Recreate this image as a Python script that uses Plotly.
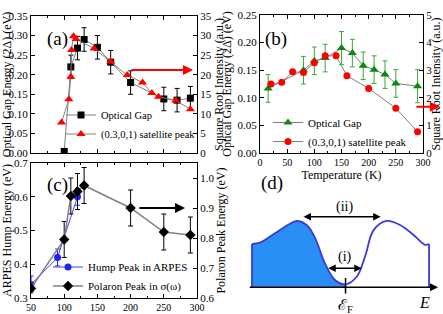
import plotly.graph_objects as go

# ---------------- data ----------------
# panel (a)
a_gap_T = [100, 110, 120, 130, 150, 170, 200, 250, 270, 290]
a_gap = [0.004, 0.22, 0.268, 0.29, 0.27, 0.232, 0.18, 0.138, 0.135, 0.14]
a_gap_err = [0, 0.03, 0.03, 0.03, 0.03, 0.03, 0.03, 0.03, 0.03, 0.03]
a_sat_T = [96, 107, 110, 111, 114, 118, 145, 170, 195, 218, 232, 242, 268, 290]
a_sat = [7.8, 13.7, 19.5, 26.3, 29.8, 29.1, 26.7, 23.4, 19.9, 18.0, 15.3, 14.4, 13.4, 11.2]

# panel (b)
b_gap_T = [15, 80, 100, 120, 150, 170, 190, 210, 230, 250, 290]
b_gap = [0.117, 0.150, 0.167, 0.172, 0.190, 0.181, 0.158, 0.151, 0.142, 0.126, 0.121]
b_gap_err = [0.025, 0.025, 0.025, 0.025, 0.03, 0.025, 0.025, 0.025, 0.025, 0.025, 0.03]
b_sat_T = [20, 40, 60, 80, 100, 120, 140, 160, 200, 250, 290]
b_sat = [2.5, 2.56, 2.94, 2.92, 3.27, 3.52, 3.52, 2.8, 2.34, 1.62, 0.77]

# panel (c)
c_hump_T = [50, 90, 120]
c_hump = [0.34, 0.42, 0.60]
c_hump_err = [0.025, 0.025, 0.025]
c_pol_T = [50, 100, 110, 120, 130, 200, 250, 290]
c_pol = [0.632, 0.795, 0.94, 0.955, 0.975, 0.90, 0.82, 0.81]
c_pol_err = [0.01, 0.06, 0.06, 0.06, 0.06, 0.06, 0.06, 0.06]

# panel (d) schematic density of states (arbitrary units)
d_E = [0.0, 0.43, 1.24, 1.95, 2.4, 2.94, 3.39, 3.92, 4.46, 5.03,
       5.63, 6.08, 6.54, 7.24, 7.96, 8.67, 9.3, 9.52]
d_dos = [0.56, 0.577, 0.70, 0.81, 0.858, 0.806, 0.64, 0.31, 0.094, 0.039,
         0.137, 0.40, 0.74, 0.858, 0.806, 0.68, 0.55, 0.56]
d_EF = 5.03

FONT = "Times New Roman, Liberation Serif, DejaVu Serif, serif"
W, H = 443, 314


def px(x):
    return x / W


def py(y):
    return 1 - y / H


fig = go.Figure()

GRAY = "#808080"

# ---- (a)
fig.add_trace(go.Scatter(x=a_gap_T, y=a_gap, mode="lines+markers", name="Optical Gap",
                         line=dict(color=GRAY, width=1),
                         marker=dict(symbol="square", size=7, color="black"),
                         error_y=dict(type="data", array=a_gap_err, color="black", thickness=1, width=2.5),
                         xaxis="x", yaxis="y", legend="legend"))
fig.add_trace(go.Scatter(x=a_sat_T, y=a_sat, mode="lines+markers", name="(0.3,0,1) satellite peak",
                         line=dict(color=GRAY, width=1),
                         marker=dict(symbol="triangle-up", size=8, color="red"),
                         xaxis="x", yaxis="y2", legend="legend"))

# ---- (b)
GREEN = "#0a8a0a"
fig.add_trace(go.Scatter(x=b_gap_T, y=b_gap, mode="lines+markers", name="Optical Gap",
                         line=dict(color=GRAY, width=1),
                         marker=dict(symbol="triangle-up", size=8, color=GREEN),
                         error_y=dict(type="data", array=b_gap_err, color="#3aa83a", thickness=1, width=2.5),
                         xaxis="x2", yaxis="y3", legend="legend2"))
fig.add_trace(go.Scatter(x=b_sat_T, y=b_sat, mode="lines+markers", name="(0.3,0,1) satellite peak",
                         line=dict(color=GRAY, width=1),
                         marker=dict(symbol="circle", size=7, color="red"),
                         xaxis="x2", yaxis="y4", legend="legend2"))

# ---- (c)
BLUE = "#1f1fff"
fig.add_trace(go.Scatter(x=c_hump_T, y=c_hump, mode="lines+markers", name="Hump Peak in ARPES",
                         line=dict(color="#4040ff", width=1),
                         marker=dict(symbol="circle", size=7, color=BLUE),
                         error_y=dict(type="data", array=c_hump_err, color=BLUE, thickness=1, width=2.5),
                         xaxis="x3", yaxis="y5", legend="legend3"))
fig.add_trace(go.Scatter(x=c_pol_T, y=c_pol, mode="lines+markers", name="Polaron Peak in σ(ω)",
                         line=dict(color=GRAY, width=1.5),
                         marker=dict(symbol="diamond", size=8, color="black"),
                         error_y=dict(type="data", array=c_pol_err, color="black", thickness=1, width=2.5),
                         xaxis="x3", yaxis="y6", legend="legend3"))

# ---- (d)
DLINE = "#3c3cd2"
k = d_E.index(d_EF) + 1
fig.add_trace(go.Scatter(x=d_E[:k], y=d_dos[:k],
                         mode="lines", line=dict(width=0, shape="spline", color="#2a8ff5"),
                         fill="tozeroy", fillcolor="#2a8ff5", showlegend=False,
                         xaxis="x4", yaxis="y7"))
fig.add_trace(go.Scatter(x=d_E, y=d_dos, mode="lines",
                         line=dict(color=DLINE, width=1.8, shape="spline", smoothing=1),
                         showlegend=False, xaxis="x4", yaxis="y7"))
fig.add_trace(go.Scatter(x=[d_E[0], d_E[0]], y=[0, d_dos[0]], mode="lines",
                         line=dict(color=DLINE, width=1.8), showlegend=False, xaxis="x4", yaxis="y7"))
fig.add_trace(go.Scatter(x=[d_E[-1], d_E[-1]], y=[0, d_dos[-1]], mode="lines",
                         line=dict(color=DLINE, width=1.8), showlegend=False, xaxis="x4", yaxis="y7"))
fig.add_trace(go.Scatter(x=[d_EF, d_EF], y=[-0.08, 0.12], mode="lines",
                         line=dict(color="black", width=1.5), showlegend=False, xaxis="x4", yaxis="y7"))

tickfont = dict(family=FONT, size=11, color="black")
xtickfont = dict(family=FONT, size=10, color="black")
titlefont = dict(family=FONT, size=12, color="black")

common_x = dict(showline=True, linecolor="black", linewidth=1, mirror="ticks", automargin=False,
                ticks="inside", ticklen=4, tickcolor="black", showgrid=False, zeroline=False,
                tickfont=xtickfont, minor=dict(ticks="inside", ticklen=2, dtick=25, tickcolor="black"))
common_y = dict(showline=True, linecolor="black", linewidth=1, automargin=False,
                ticks="inside", ticklen=4, tickcolor="black", showgrid=False, zeroline=False,
                tickfont=tickfont, title_font=titlefont, title_standoff=3)

a_dom_x = [px(31), px(197)]
a_dom_y = [py(153), py(16)]
b_dom_x = [px(260), px(423)]
b_dom_y = [py(153), py(15)]
c_dom_x = [px(31), px(197)]
c_dom_y = [py(298), py(163)]

fig.update_layout(
    width=W, height=H, margin=dict(l=0, r=0, t=0, b=0, autoexpand=False),
    paper_bgcolor="white", plot_bgcolor="rgba(0,0,0,0)",
    font=dict(family=FONT, color="black"),
    xaxis=dict(domain=a_dom_x, range=[50, 300], anchor="y", tick0=50, dtick=50,
               showticklabels=False, **common_x),
    yaxis=dict(domain=a_dom_y, range=[0, 0.35], anchor="x", dtick=0.05, tickformat=".2f",
               title_text="Optical Gap Energy (2Δ) (eV)", **common_y),
    yaxis2=dict(range=[0, 35], anchor="x", overlaying="y", side="right", dtick=5,
                title_text="Square Root Intensity (a.u.)", **common_y),
    xaxis2=dict(domain=b_dom_x, range=[0, 300], anchor="y3", tick0=0, dtick=50,
                title_text="Temperature (K)", title_font=titlefont, title_standoff=0, **common_x),
    yaxis3=dict(domain=b_dom_y, range=[0, 0.25], anchor="x2", dtick=0.05, tickformat=".2f",
                title_text="Optical Gap Energy (2Δ) (eV)", **common_y),
    yaxis4=dict(range=[0, 5], anchor="x2", overlaying="y3", side="right", dtick=1,
                title_text="Square Root Intensity (a.u.)", **common_y),
    xaxis3=dict(domain=c_dom_x, range=[50, 300], anchor="y5", tick0=50, dtick=50, **common_x),
    yaxis5=dict(domain=c_dom_y, range=[0.3, 0.7], anchor="x3", dtick=0.1, tickformat=".1f",
                title_text="ARPES Hump Energy (eV)", **common_y),
    yaxis6=dict(range=[0.6, 1.05], anchor="x3", overlaying="y5", side="right", dtick=0.1, tickformat=".1f",
                title_text="Polaron Peak Energy (eV)", **common_y),
    xaxis4=dict(domain=[px(246.4), px(441.7)], range=[-0.3, 10.2], anchor="y7", visible=False),
    yaxis7=dict(domain=[0.0013, py(171.35)], range=[-0.34, 1.5], anchor="x4", visible=False),
    legend=dict(x=px(61), y=py(124.5), xanchor="left", yanchor="middle", bgcolor="rgba(0,0,0,0)",
                font=dict(family=FONT, size=10.5), tracegroupgap=0),
    legend2=dict(x=px(268), y=py(132), xanchor="left", yanchor="middle", bgcolor="rgba(0,0,0,0)",
                 font=dict(family=FONT, size=11), tracegroupgap=0),
    legend3=dict(x=px(48), y=py(276.5), xanchor="left", yanchor="middle", bgcolor="rgba(0,0,0,0)",
                 font=dict(family=FONT, size=11), tracegroupgap=0),
)

ann = []
# panel labels
for txt, x, y in [("(a)", 45, 26), ("(b)", 276, 26), ("(c)", 45, 185), ("(d)", 272, 183)]:
    ann.append(dict(text=txt, x=px(x), y=py(y), xref="paper", yref="paper", showarrow=False,
                    font=dict(family=FONT, size=19, color="black")))
# x-axis title of panel (c), partly below the picture's edge as in the original
ann.append(dict(text="Temperature (K)", x=px(114), y=py(310.5), xref="paper", yref="paper",
                xanchor="center", yanchor="top", showarrow=False,
                font=dict(family=FONT, size=12, color="black")))
# arrows to right axes
ann.append(dict(x=294, y=0.212, ax=199, ay=0.212, xref="x", yref="y", axref="x", ayref="y",
                showarrow=True, arrowhead=2, arrowsize=1, arrowwidth=2, arrowcolor="red", text=""))
ann.append(dict(x=331, y=1.68, ax=285, ay=1.68, xref="x2", yref="y4", axref="x2", ayref="y4",
                showarrow=True, arrowhead=2, arrowsize=1, arrowwidth=2, arrowcolor="red", text=""))
ann.append(dict(x=282, y=0.9, ax=211, ay=0.9, xref="x3", yref="y6", axref="x3", ayref="y6",
                showarrow=True, arrowhead=2, arrowsize=1, arrowwidth=2, arrowcolor="black", text=""))
# panel (d) decorations
ann.append(dict(x=10, y=0, ax=-0.2, ay=0, xref="x4", yref="y7", axref="x4", ayref="y7",
                showarrow=True, arrowhead=2, arrowsize=1, arrowwidth=1.6, arrowcolor="black", text=""))
ann.append(dict(x=6.92, y=0.913, ax=2.69, ay=0.913, xref="x4", yref="y7", axref="x4", ayref="y7",
                showarrow=True, arrowhead=2, startarrowhead=2, arrowside="end+start", arrowsize=1,
                arrowwidth=1.5, arrowcolor="black", text=""))
ann.append(dict(x=5.9, y=0.246, ax=4.02, ay=0.246, xref="x4", yref="y7", axref="x4", ayref="y7",
                showarrow=True, arrowhead=2, startarrowhead=2, arrowside="end+start", arrowsize=1,
                arrowwidth=1.5, arrowcolor="black", text=""))
ann.append(dict(text="(ii)", x=4.99, y=1.04, xref="x4", yref="y7", showarrow=False,
                font=dict(family=FONT, size=14, color="black")))
ann.append(dict(text="(i)", x=4.99, y=0.39, xref="x4", yref="y7", showarrow=False,
                font=dict(family=FONT, size=14, color="black")))
ann.append(dict(text="ℰ<sub>F</sub>", x=d_EF, y=-0.24, xref="x4", yref="y7", showarrow=False,
                font=dict(family=FONT, size=15, color="black")))
ann.append(dict(text="<i>E</i>", x=9.25, y=-0.19, xref="x4", yref="y7", showarrow=False,
                font=dict(family=FONT, size=16, color="black")))
fig.update_layout(annotations=ann)

fig.write_html("out.html", config={"displayModeBar": False},
               post_script="document.body.style.margin='0';document.body.style.padding='0';")
